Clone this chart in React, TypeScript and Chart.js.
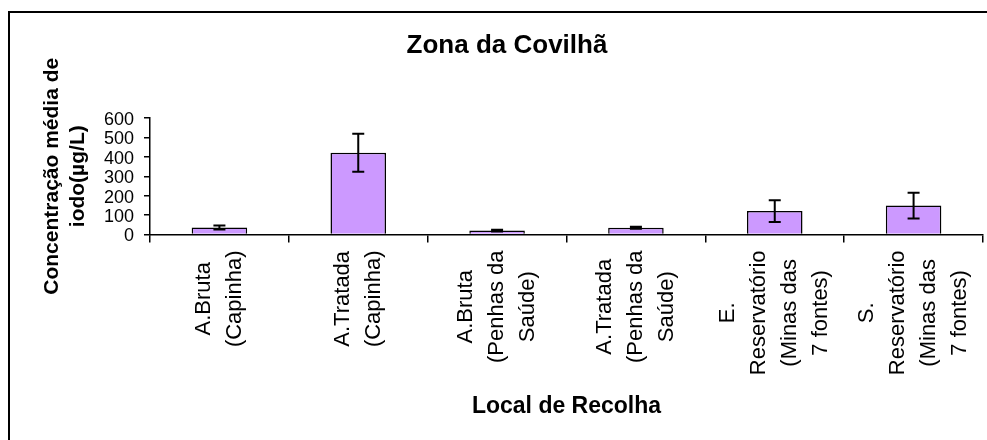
import React, { useEffect, useRef } from "react";
import { Chart, registerables } from "chart.js";

Chart.register(...registerables);

const chartTitle = "Zona da Covilhã";
const yTitleLines = ["Concentração média de", "iodo(µg/L)"];
const xTitle = "Local de Recolha";
const categoryLines: string[][] = [
  ["A.Bruta", "(Capinha)"],
  ["A.Tratada", "(Capinha)"],
  ["A.Bruta", "(Penhas da", "Saúde)"],
  ["A.Tratada", "(Penhas da", "Saúde)"],
  ["E.", "Reservatório", "(Minas das", "7 fontes)"],
  ["S.", "Reservatório", "(Minas das", "7 fontes)"],
];
const meanValues = [36, 421, 20, 35, 121, 149];
const errorValues = [10, 98, 5, 5, 56, 66];
const yMin = 0;
const yMax = 600;
const yStep = 100;

const FONT = "'Liberation Sans', Arial, Helvetica, sans-serif";

const framePlugin = {
  id: "frame",
  beforeDraw(chart: any) {
    const ctx = chart.ctx;
    ctx.save();
    ctx.fillStyle = "#ffffff";
    ctx.fillRect(0, 0, chart.width, chart.height);
    ctx.strokeStyle = "#000000";
    ctx.lineWidth = 2;
    ctx.strokeRect(9, 12, chart.width + 20, chart.height + 20);
    ctx.restore();
  },
};

const titlePlugin = {
  id: "customTitle",
  afterDraw(chart: any) {
    const ctx = chart.ctx;
    ctx.save();
    ctx.fillStyle = "#000000";
    ctx.font = `bold 26px ${FONT}`;
    ctx.textAlign = "center";
    ctx.textBaseline = "middle";
    ctx.fillText(chartTitle, 507, 46);
    ctx.restore();
  },
};

const errorBarPlugin = {
  id: "errorBars",
  afterDatasetsDraw(chart: any) {
    const ctx = chart.ctx;
    const yScale = chart.scales.y;
    const meta = chart.getDatasetMeta(0);
    ctx.save();
    ctx.strokeStyle = "#000000";
    ctx.lineWidth = 2;
    meta.data.forEach((bar: any, i: number) => {
      const v = meanValues[i];
      const e = errorValues[i];
      const x = bar.x;
      const yTop = yScale.getPixelForValue(v + e);
      const yBot = yScale.getPixelForValue(v - e);
      const cap = 6;
      ctx.beginPath();
      ctx.moveTo(x, yTop);
      ctx.lineTo(x, yBot);
      ctx.moveTo(x - cap, yTop);
      ctx.lineTo(x + cap, yTop);
      ctx.moveTo(x - cap, yBot);
      ctx.lineTo(x + cap, yBot);
      ctx.stroke();
    });
    ctx.restore();
  },
};

const xLabelPlugin = {
  id: "xLabels",
  afterDraw(chart: any) {
    const ctx = chart.ctx;
    const xScale = chart.scales.x;
    const axisY = chart.chartArea.bottom;
    const pitch = 31;
    ctx.save();
    ctx.fillStyle = "#000000";
    ctx.font = `22px ${FONT}`;
    ctx.textAlign = "center";
    ctx.textBaseline = "middle";
    categoryLines.forEach((lines, i) => {
      const cx = xScale.getPixelForValue(i);
      const maxW = Math.max(...lines.map((l) => ctx.measureText(l).width));
      const cy = axisY + 16 + maxW / 2;
      const n = lines.length;
      lines.forEach((line, j) => {
        const lx = cx + (j - (n - 1) / 2) * pitch;
        ctx.save();
        ctx.translate(lx, cy);
        ctx.rotate(-Math.PI / 2);
        ctx.fillText(line, 0, 0);
        ctx.restore();
      });
    });
    ctx.restore();
  },
};

export default function App() {
  const canvasRef = useRef<HTMLCanvasElement | null>(null);

  useEffect(() => {
    if (!canvasRef.current) return;
    const chart = new Chart(canvasRef.current, {
      type: "bar",
      data: {
        labels: categoryLines.map((l) => l.join(" ")),
        datasets: [
          {
            data: meanValues,
            backgroundColor: "rgb(204,153,255)",
            borderColor: "#000000",
            borderWidth: 1.5,
            barPercentage: 0.4,
            categoryPercentage: 1,
          },
        ],
      },
      options: {
        animation: false,
        responsive: false,
        devicePixelRatio: 1,
        layout: { padding: { left: 0, right: 4, top: 118, bottom: 0 } },
        plugins: {
          legend: { display: false },
          tooltip: { enabled: false },
          title: { display: false },
        },
        scales: {
          x: {
            type: "category",
            grid: {
              display: true,
              drawOnChartArea: false,
              drawTicks: true,
              tickLength: 8,
              color: "#000000",
              lineWidth: 1.5,
              offset: true,
            },
            border: { display: true, color: "#000000", width: 1.5 },
            ticks: { display: false },
            title: {
              display: true,
              text: xTitle,
              color: "#000000",
              font: { family: FONT, size: 23, weight: "bold", lineHeight: 1.2 },
              padding: { top: 0, bottom: 20 },
            },
            afterFit(scale: any) {
              scale.height = 205.5;
            },
          },
          y: {
            min: yMin,
            max: yMax,
            grid: {
              display: true,
              drawOnChartArea: false,
              drawTicks: true,
              tickLength: 6,
              color: "#000000",
              lineWidth: 1.5,
            },
            border: { display: true, color: "#000000", width: 1.5 },
            ticks: {
              stepSize: yStep,
              autoSkip: false,
              color: "#000000",
              padding: 10,
              labelOffset: 2,
              font: { family: FONT, size: 18, lineHeight: 1 },
            },
            title: {
              display: true,
              text: yTitleLines,
              color: "#000000",
              font: { family: FONT, size: 21, weight: "bold", lineHeight: 1.2 },
              padding: { top: 40, bottom: 0 },
            },
            afterFit(scale: any) {
              scale.width = 150;
            },
          },
        },
      },
      plugins: [framePlugin, errorBarPlugin, xLabelPlugin, titlePlugin],
    } as any);
    return () => chart.destroy();
  }, []);

  return (
    <div style={{ position: "fixed", left: 0, top: 0, width: 987, height: 440, background: "#fff" }}>
      <canvas ref={canvasRef} width={987} height={440} style={{ display: "block", width: 987, height: 440 }} />
    </div>
  );
}
